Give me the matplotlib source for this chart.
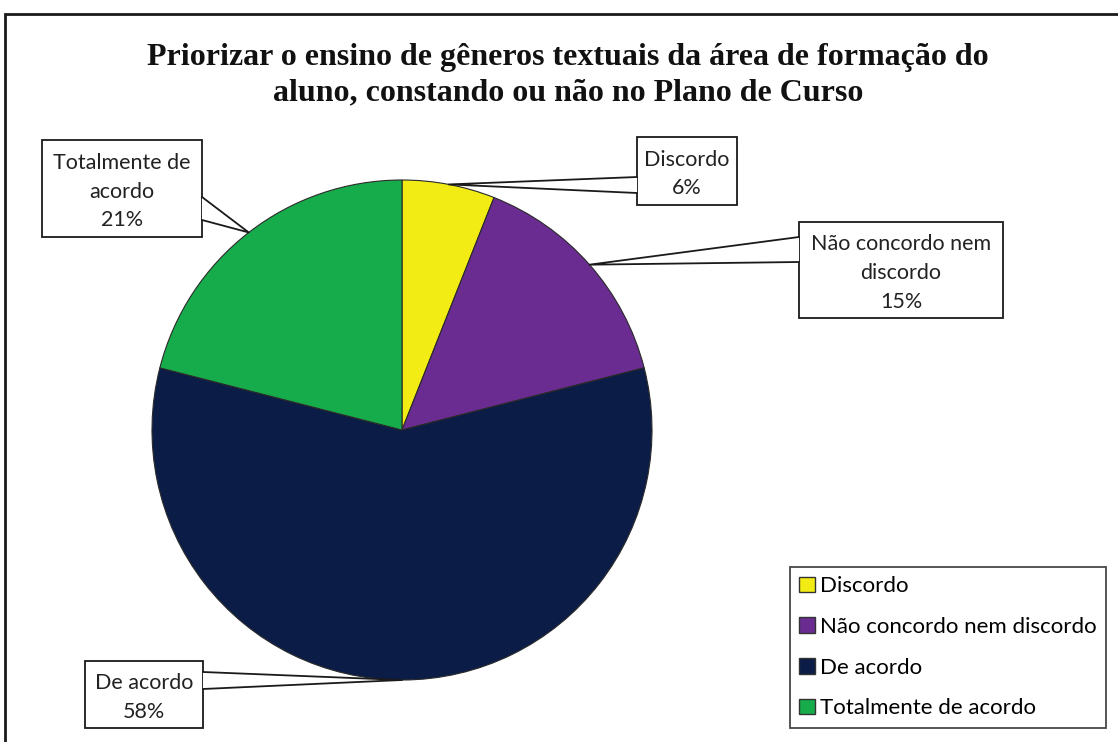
import numpy as np
import matplotlib.pyplot as plt
from matplotlib.patches import Rectangle, Polygon
from matplotlib.lines import Line2D

categorias = ["Discordo", "Não concordo nem discordo", "De acordo", "Totalmente de acordo"]
rotulos = ["Discordo", "Não concordo nem\ndiscordo", "De acordo", "Totalmente de\nacordo"]
percentagens = [6, 15, 58, 21]
cores = ["#F2EC14", "#6A2C91", "#0B1C47", "#17AC4B"]

titulo = "Priorizar o ensino de gêneros textuais da área de formação do\naluno, constando ou não no Plano de Curso"

W, H = 1118, 742
fig = plt.figure(figsize=(W / 100, H / 100), dpi=100)
fonte = "Lato"

def fx(x):
    return x / W

def fy(y):
    return 1 - y / H

# moldura do gráfico
fig.patches.append(Rectangle((fx(5), fy(760)), fx(1130), fy(14) - fy(760), transform=fig.transFigure,
                             fill=False, edgecolor="#1a1a1a", linewidth=2))

fig.text(fx(568), fy(75), titulo, ha="center", va="center", fontsize=23,
         family="Liberation Serif", fontweight="bold", linespacing=1.3, color="#111111")

# pizza: centro (402,430), raio 250 px
cx, cy, r = 402, 430, 250
ax = fig.add_axes([fx(cx - r), fy(cy + r), 2 * r / W, 2 * r / H])
fatias, _ = ax.pie(percentagens, colors=cores, startangle=90, counterclock=False,
                   wedgeprops=dict(edgecolor="#2a2a2a", linewidth=0.8))
ax.set_xlim(-1, 1)
ax.set_ylim(-1, 1)
ax.set_aspect("equal")
ax.axis("off")

# caixas de rótulo (px): x0, y0, x1, y1, lado da base do balão, y da base
caixas = [
    (637, 137, 737, 205, "left", (177, 193)),
    (799, 222, 1003, 318, "left", (237, 262)),
    (85, 661, 203, 728, "right", (672, 689)),
    (42, 140, 202, 237, "right", (197, 220)),
]

for fatia, rot, p, cx_ in zip(fatias, rotulos, percentagens, caixas):
    x0, y0, x1, y1, lado, (b0, b1) = cx_
    ang = np.deg2rad((fatia.theta1 + fatia.theta2) / 2)
    tx, ty = cx + r * np.cos(ang), cy - r * np.sin(ang)
    bx = x0 if lado == "left" else x1
    fig.patches.append(Rectangle((fx(x0), fy(y1)), fx(x1 - x0), fy(y0) - fy(y1),
                                 transform=fig.transFigure, facecolor="white",
                                 edgecolor="#1a1a1a", linewidth=1.3, zorder=5))
    fig.patches.append(Polygon([(fx(bx), fy(b0)), (fx(tx), fy(ty)), (fx(bx), fy(b1))],
                               closed=True, transform=fig.transFigure, facecolor="white",
                               edgecolor="none", zorder=6))
    fig.lines.append(Line2D([fx(bx), fx(tx), fx(bx)], [fy(b0), fy(ty), fy(b1)],
                            transform=fig.transFigure, color="#1a1a1a", linewidth=1.3, zorder=7))
    fig.text(fx((x0 + x1) / 2), fy((y0 + y1) / 2 + 3), f"{rot}\n{p}%", ha="center", va="center",
             fontsize=15.5, family=fonte, color="#222222", linespacing=1.55, zorder=8)

leg = fig.legend(fatias, categorias, loc="upper left", bbox_to_anchor=(fx(790), fy(567)),
                 bbox_transform=fig.transFigure, frameon=True, fancybox=False,
                 prop={"family": fonte, "size": 16}, handlelength=0.7, handleheight=0.7,
                 handletextpad=0.25, labelspacing=0.93, borderpad=0.42, borderaxespad=0)
leg.get_frame().set_edgecolor("#1a1a1a")
leg.get_frame().set_linewidth(1.3)
for h in leg.legend_handles:
    h.set_edgecolor("#333333")
    h.set_linewidth(1)

fig.savefig("out.png", dpi=100)
